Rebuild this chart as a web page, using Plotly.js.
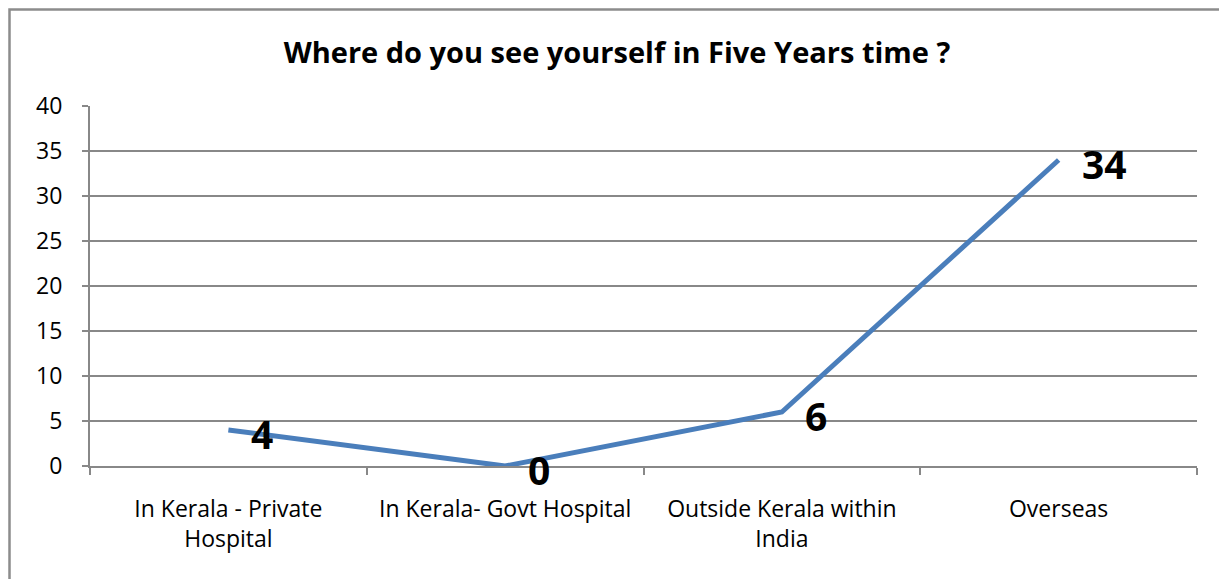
<!DOCTYPE html>
<html>
<head>
<meta charset="utf-8">
<script src="https://cdn.plot.ly/plotly-3.0.1.min.js"></script>
<style>html,body{margin:0;padding:0;background:#fff;}#chart{width:1219px;height:579px;}</style>
</head>
<body>
<div id="chart"></div>
<script>
const categories = ["In Kerala - Private<br>Hospital", "In Kerala- Govt Hospital", "Outside Kerala within<br>India", "Overseas"];
const values = [4, 0, 6, 34];
const yTicks = [0, 5, 10, 15, 20, 25, 30, 35, 40];
const titleText = "Where do you see yourself in Five Years time ?";

const FONT = "'Open Sans', 'Noto Sans', 'DejaVu Sans', sans-serif";
const GRID = "#888888";

const trace = {
  type: "scatter",
  mode: "lines",
  x: categories,
  y: values,
  line: {color: "#4a7ebb", width: 5},
  hoverinfo: "x+y"
};

const annotations = categories.map((c, i) => ({
  x: c, y: values[i], xref: "x", yref: "y",
  text: String(values[i]),
  showarrow: false,
  xanchor: "left", yanchor: "middle",
  xshift: 21, yshift: -3,
  font: {family: FONT, size: 39, color: "#000", weight: "bold"}
}));

const layout = {
  width: 1219, height: 579,
  margin: {l: 90, r: 22, t: 106, b: 113, pad: 0},
  paper_bgcolor: "#ffffff",
  plot_bgcolor: "#ffffff",
  showlegend: false,
  font: {family: FONT, size: 23, color: "#000"},
  title: {
    text: "<b>" + titleText + "</b>",
    font: {family: FONT, size: 29, color: "#000"},
    xref: "container", x: 617 / 1219, xanchor: "center",
    yref: "container", y: 1 - 53 / 579, yanchor: "middle"
  },
  xaxis: {
    type: "category",
    range: [-0.5, categories.length - 0.5],
    tickson: "boundaries",
    showgrid: false,
    showline: true, linecolor: GRID, linewidth: 2,
    ticks: "outside", ticklen: 7, tickcolor: GRID, tickwidth: 2,
    ticklabelstandoff: 21,
    tickfont: {family: FONT, size: 23, color: "#000"},
    zeroline: false,
    fixedrange: true
  },
  yaxis: {
    range: [0, 40],
    tickvals: yTicks,
    ticktext: yTicks.map(String),
    showgrid: true, gridcolor: GRID, gridwidth: 1.5,
    showline: true, linecolor: GRID, linewidth: 2,
    ticks: "outside", ticklen: 6, tickcolor: GRID, tickwidth: 1.5,
    ticklabelstandoff: 15,
    tickfont: {family: FONT, size: 23, color: "#000"},
    zeroline: false,
    fixedrange: true
  },
  shapes: [{
    type: "rect", xref: "paper", yref: "paper",
    x0: (9.5 - 90) / 1107, x1: 1.2,
    y0: -0.6, y1: (466 - 9.5) / 360,
    line: {color: "#8c8c8c", width: 2.5},
    fillcolor: "rgba(0,0,0,0)",
    layer: "below"
  }],
  annotations: annotations
};

Plotly.newPlot("chart", [trace], layout, {displayModeBar: false, staticPlot: true});
</script>
</body>
</html>
